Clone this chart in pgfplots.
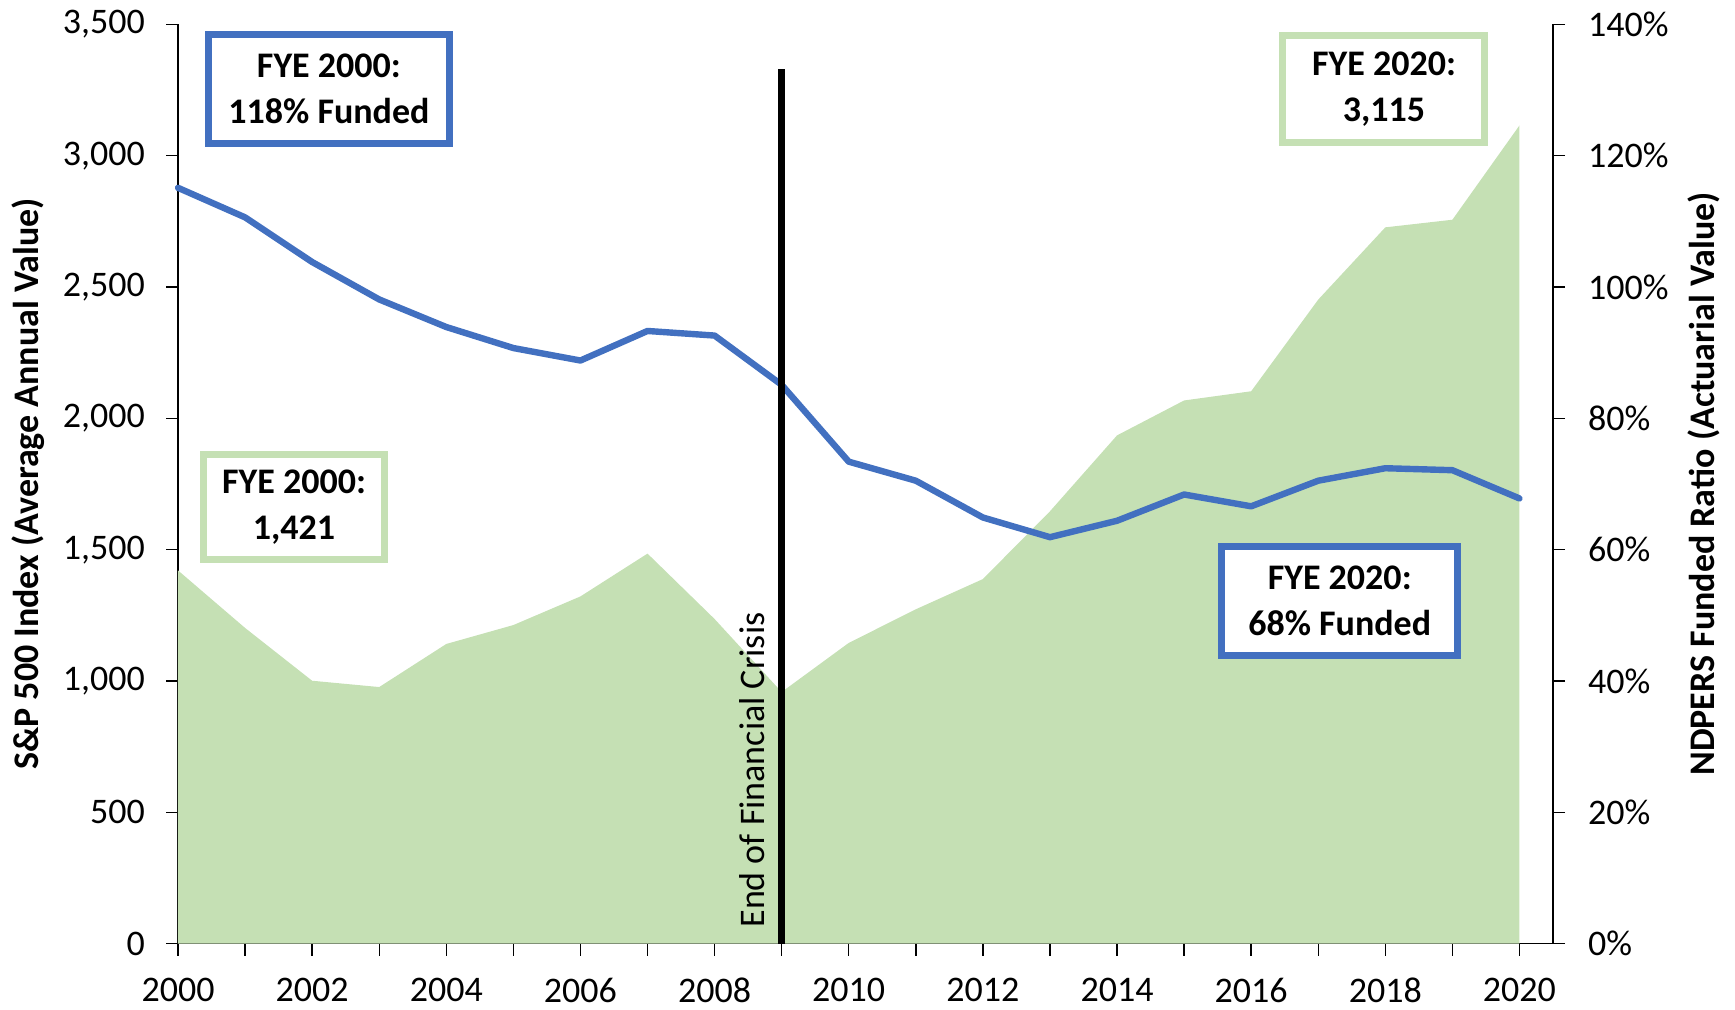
\documentclass[border=0pt]{standalone}
\usepackage{fontspec}
\setmainfont{Carlito}
\usepackage{pgfplots}
\pgfplotsset{compat=1.18}
\definecolor{sgreen}{HTML}{C5E0B4}
\definecolor{fblue}{HTML}{4270C0}
\begin{document}
\begin{tikzpicture}
\pgfplotsset{
  common/.style={
    at={(0,0)}, anchor=south west,
    scale only axis, width=687.5pt, height=459.7pt,
    xmin=2000, xmax=2020.5,
    tick align=outside, major tick length=6pt, minor tick length=6pt,
    tick style={black, line width=0.7pt},
    axis line style={black, line width=0.7pt},
    /pgf/number format/assume math mode=true,
    every tick label/.append style={font=\fontsize{18}{18}\selectfont},
    label style={font=\fontsize{18}{18}\selectfont\bfseries},
  }
}
\begin{axis}[common,
  ymin=0, ymax=3500,
  axis x line*=bottom, axis y line*=left,
  xtick={2000,2002,...,2020}, minor xtick={2001,2003,...,2019},
  ytick={0,500,...,3500},
  xticklabel style={/pgf/number format/1000 sep=, yshift=-7.5pt},
  yticklabel style={/pgf/number format/1000 sep={,}, xshift=-7pt},
  ylabel={S\&P 500 Index (Average Annual Value)},
  ylabel style={at={(axis description cs:-0.109,0.5)}, anchor=center},
]
\addplot[fill=sgreen, draw=none] coordinates {
(2000,1421) (2001,1202) (2002,1001) (2003,977) (2004,1141) (2005,1213)
(2006,1322) (2007,1485) (2008,1236) (2009,958) (2010,1145) (2011,1273)
(2012,1388) (2013,1646) (2014,1935) (2015,2068) (2016,2103) (2017,2452)
(2018,2727) (2019,2756) (2020,3115)
} \closedcycle;
\end{axis}
\begin{axis}[common,
  ymin=0, ymax=140,
  axis y line*=right, axis x line=none,
  ytick={0,20,...,140},
  yticklabel={\pgfmathprintnumber{\tick}\%},
  yticklabel style={xshift=8pt},
  ylabel={NDPERS Funded Ratio (Actuarial Value)},
  ylabel style={at={(axis description cs:1.110,0.5)}, anchor=center},
  clip=false,
]
\addplot[fblue, line width=3.2pt, line cap=round, line join=round] coordinates {
(2000,115.1) (2001,110.6) (2002,103.8) (2003,98.1) (2004,93.9) (2005,90.7)
(2006,88.8) (2007,93.3) (2008,92.6) (2009,85.1) (2010,73.4) (2011,70.5)
(2012,64.9) (2013,61.9) (2014,64.4) (2015,68.4) (2016,66.6) (2017,70.5)
(2018,72.4) (2019,72.1) (2020,67.8)
};
\draw[black, line width=0.7pt] (axis cs:2020.45,0) -- (axis cs:2020.68,0);
\draw[black, line width=3.5pt] (axis cs:2009,0) -- (axis cs:2009,133.2);
\node[xshift=-8.5pt, rotate=90, anchor=base west, inner sep=0pt, font=\fontsize{18}{18}\selectfont]
  at (axis cs:2009,2.4) {End of Financial Crisis};
\node[draw=fblue, line width=3.5pt, fill=white, align=center, inner sep=0pt, font=\fontsize{18}{23}\selectfont\bfseries, minimum width=120.5pt, minimum height=54.5pt] at (axis cs:2002.25,130.1) {FYE 2000:\\118\% Funded};
\node[draw=sgreen, line width=3.5pt, fill=white, align=center, inner sep=0pt, font=\fontsize{18}{23}\selectfont\bfseries, minimum width=101pt, minimum height=53.5pt] at (axis cs:2017.98,130.1) {FYE 2020:\\3,115};
\node[draw=sgreen, line width=3.5pt, fill=white, align=center, inner sep=0pt, font=\fontsize{18}{23}\selectfont\bfseries, minimum width=90.5pt, minimum height=52.5pt] at (axis cs:2001.73,66.5) {FYE 2000:\\1,421};
\node[draw=fblue, line width=3.5pt, fill=white, align=center, inner sep=0pt, font=\fontsize{18}{23}\selectfont\bfseries, minimum width=118pt, minimum height=54.5pt] at (axis cs:2017.32,52.2) {FYE 2020:\\68\% Funded};
\end{axis}
\pgfresetboundingbox
\path[use as bounding box] (-89pt,-33.15pt) rectangle (778.5pt,471.85pt);
\end{tikzpicture}
\end{document}
